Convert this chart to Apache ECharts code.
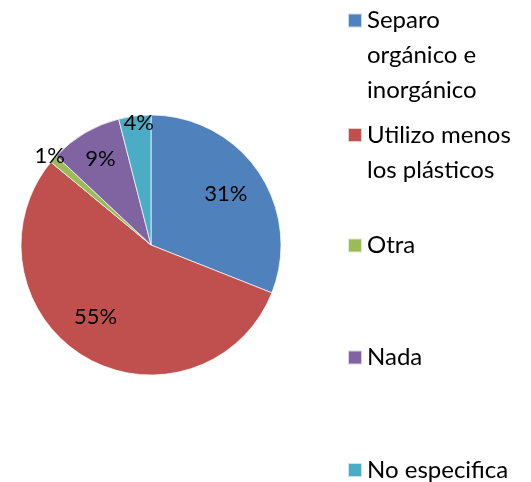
<!DOCTYPE html>
<html>
<head>
<meta charset="utf-8">
<script src="https://cdn.jsdelivr.net/npm/echarts@6/dist/echarts.min.js"></script>
<style>
html,body{margin:0;padding:0;background:#fff;}
#c{width:531px;height:482px;}
</style>
</head>
<body>
<div id="c"></div>
<script>
const categories = ['Separo orgánico e inorgánico', 'Utilizo menos los plásticos', 'Otra', 'Nada', 'No especifica'];
const legendLabels = ['Separo\norgánico e\ninorgánico', 'Utilizo menos\nlos plásticos', 'Otra', 'Nada', 'No especifica'];
const values = [31, 55, 1, 9, 4];
const colors = ['#4F81BD', '#C0504D', '#9BBB59', '#8064A2', '#4BACC6'];

const CX = 151, CY = 245, R = 130;
const labelRadiusFactor = [0.695, 0.70, 1.04, 0.765, 0.946];
const labelAngleOffset = [0, 7, 0, 0, 1.5];
const legendCenters = [20.5, 135, 245.5, 357.5, 470];
const LH = 35;

const total = values.reduce((a, b) => a + b, 0);
const cum = [];
values.reduce((acc, v, i) => { cum[i] = acc; return acc + v; }, 0);

const legends = categories.map((name, i) => {
  const k = legendLabels[i].split('\n').length;
  const boxH = (2 * k - 1) * LH;
  return {
    data: [name],
    orient: 'vertical',
    left: 347,
    top: legendCenters[i] - boxH / 2,
    padding: 0,
    itemWidth: 14,
    itemHeight: 14,
    icon: 'rect',
    selectedMode: false,
    formatter: () => '\n'.repeat(k - 1) + legendLabels[i],
    textStyle: {
      fontFamily: 'Lato',
      fontSize: 24,
      lineHeight: LH,
      color: '#000'
    }
  };
});

const chart = echarts.init(document.getElementById('c'), null, {renderer: 'canvas'});
chart.setOption({
  animation: false,
  color: colors,
  legend: legends,
  series: [{
    type: 'pie',
    center: [CX, CY],
    radius: R,
    startAngle: 90,
    clockwise: true,
    avoidLabelOverlap: false,
    itemStyle: { borderColor: 'rgba(255,255,255,0.7)', borderWidth: 1 },
    label: {
      show: true,
      position: 'inside',
      formatter: '{c}%',
      fontFamily: 'Lato',
      fontSize: 22,
      color: '#000'
    },
    labelLine: { show: false },
    emphasis: { disabled: true },
    labelLayout: function (p) {
      const i = p.dataIndex;
      const mid = ((cum[i] + values[i] / 2) / total * 360 + labelAngleOffset[i]) * Math.PI / 180;
      const r = labelRadiusFactor[i] * R;
      return {
        x: CX + r * Math.sin(mid),
        y: CY - r * Math.cos(mid),
        align: 'center',
        verticalAlign: 'middle'
      };
    },
    data: categories.map((n, i) => ({ name: n, value: values[i] }))
  }]
});
</script>
</body>
</html>
